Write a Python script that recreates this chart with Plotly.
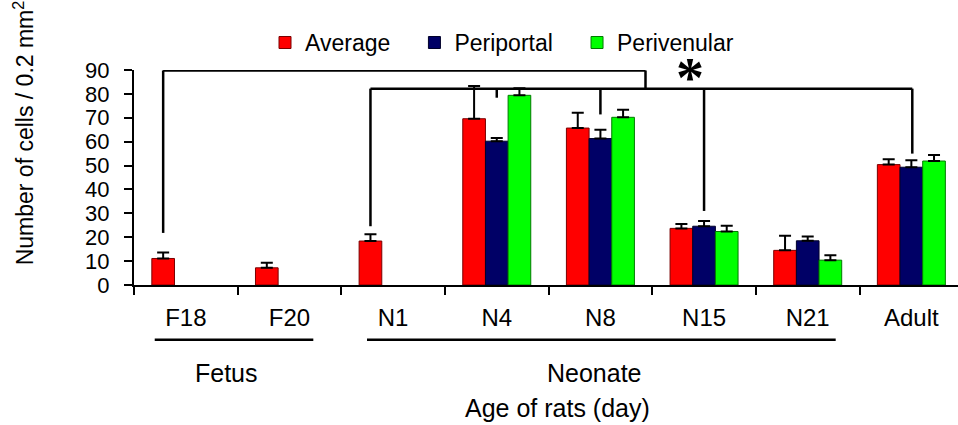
import plotly.graph_objects as go

categories = ["F18", "F20", "N1", "N4", "N8", "N15", "N21", "Adult"]
average = [11.1, 7.2, 18.4, 69.6, 65.7, 23.7, 14.5, 50.4]
average_err = [2.5, 2.1, 2.8, 13.7, 6.4, 1.8, 6.1, 2.2]
periportal = [None, None, None, 60.2, 61.3, 24.6, 18.5, 49.3]
periportal_err = [0, 0, 0, 1.3, 3.7, 2.2, 1.8, 2.9]
perivenular = [None, None, None, 79.4, 70.2, 22.4, 10.4, 51.9]
perivenular_err = [0, 0, 0, 3.0, 3.2, 2.4, 2.1, 2.5]

NB = "\u00a0" * 3
series = [
    ("Average" + NB, average, average_err, "#FF0000", "#7A0000"),
    ("Periportal" + NB, periportal, periportal_err, "#000066", "#00002A"),
    ("Perivenular", perivenular, perivenular_err, "#00FF00", "#007A00"),
]

FONT = "Liberation Sans, Arial, sans-serif"

fig = go.Figure()
for name, vals, errs, col, edge in series:
    fig.add_trace(go.Bar(
        x=categories, y=vals, name=name,
        marker=dict(color=col, line=dict(color=edge, width=1)),
        error_y=dict(type="data", symmetric=False, array=errs,
                     arrayminus=[0] * len(errs), color="black",
                     thickness=2, width=6),
    ))

bw = (1 - 0.344) / 3  # bar width in category units

def seg(x0, y0, x1, y1):
    return dict(type="line", xref="x", yref="y", x0=x0, y0=y0, x1=x1, y1=y1,
                line=dict(color="black", width=2.5))

shapes = []
# bracket 1 (F18 -> joins bracket 2)
shapes += [seg(0 - bw, 21.8, 0 - bw, 89.8), seg(0 - bw, 89.8, 4.435, 89.8),
           seg(4.435, 89.8, 4.435, 82.2)]
# bracket 2 (N1 ... Adult)
shapes += [seg(2 - bw, 24.6, 2 - bw, 82.2), seg(2 - bw, 82.2, 7.009, 82.2),
           seg(3, 82.2, 3, 78.4), seg(4, 82.2, 4, 71.4),
           seg(5, 82.2, 5, 31.0), seg(7.009, 82.2, 7.009, 55.0)]
# group underlines
shapes += [dict(type="line", xref="x", yref="paper", x0=-0.30, x1=1.23,
                y0=-0.2552, y1=-0.2552, line=dict(color="black", width=2.5)),
           dict(type="line", xref="x", yref="paper", x0=1.748, x1=6.27,
                y0=-0.2552, y1=-0.2552, line=dict(color="black", width=2.5))]

L, R, T, B = 134, 0, 69.5, 140
W, H = 958, 425
pw, ph = W - L - R, H - T - B

def px_x(p):
    return (p - L) / pw

def px_y(p):
    return (H - B - p) / ph

annotations = [
    dict(text="<b>*</b>", x=4.86, y=86.5, xref="x", yref="y", showarrow=False,
         xanchor="center", yanchor="middle",
         font=dict(family="Liberation Serif", size=56, color="black")),
]

for txt, x, y in [("Fetus", 226.7, 373.7), ("Neonate", 594.5, 373.7),
                  ("Age of rats (day)", 557, 408)]:
    annotations.append(dict(text=txt, x=px_x(x), y=px_y(y), xref="paper",
                            yref="paper", showarrow=False, xanchor="center",
                            yanchor="middle",
                            font=dict(family=FONT, size=25, color="black")))

annotations.append(dict(
    text="Number of cells / 0.2 mm<sup>2</sup>", textangle=-90,
    x=px_x(24), y=px_y(133), xref="paper", yref="paper", showarrow=False,
    xanchor="center", yanchor="middle",
    font=dict(family=FONT, size=23, color="black")))

fig.update_layout(
    width=W, height=H,
    margin=dict(l=L, r=R, t=T, b=B, autoexpand=False),
    plot_bgcolor="white", paper_bgcolor="white",
    barmode="group", bargap=0.344, bargroupgap=0,
    font=dict(family=FONT, color="black"),
    shapes=shapes, annotations=annotations,
    legend=dict(orientation="h", x=px_x(265), y=px_y(42), xanchor="left",
                yanchor="middle", font=dict(family=FONT, size=23, color="black"),
                bgcolor="rgba(0,0,0,0)"),
    xaxis=dict(type="category", range=[-0.5, 7.45], showline=True,
               linecolor="black", linewidth=2, ticks="outside", ticklen=8,
               tickwidth=2, tickcolor="black", tickson="boundaries",
               tickfont=dict(family=FONT, size=24, color="black"),
               ticklabelstandoff=10, showgrid=False, zeroline=False),
    yaxis=dict(range=[0, 90], dtick=10, showline=True, linecolor="black",
               linewidth=2, ticks="outside", ticklen=8, tickwidth=2,
               tickcolor="black", tickfont=dict(family=FONT, size=22, color="black"),
               ticklabelstandoff=10, showgrid=False, zeroline=False),
)

fig.write_html("out.html")
